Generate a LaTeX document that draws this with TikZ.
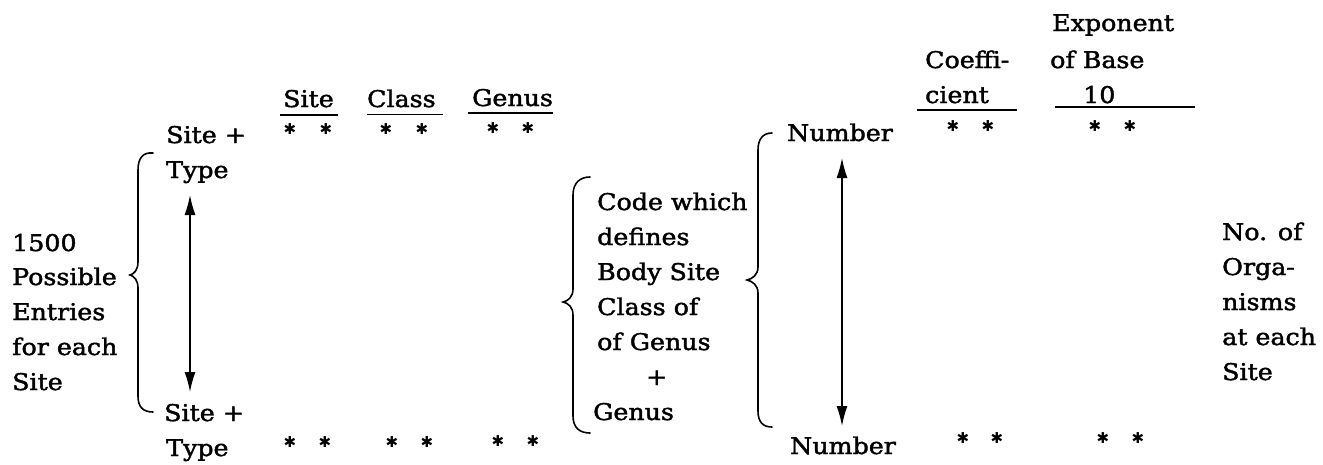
\documentclass[tikz,border=0pt]{standalone}
\usepackage{fontspec}
\usetikzlibrary{arrows.meta}
\setmainfont{DejaVu Serif}[FakeStretch=1.1,FakeBold=1.8]
\newfontfamily\starfont{DejaVu Sans}
\begin{document}
\begin{tikzpicture}[x=1pt,y=-1pt,
  lbl/.style={anchor=base west,inner sep=0pt,font=\fontsize{23}{35}\selectfont},
  stars/.style={anchor=center,inner sep=0pt,font=\starfont\fontsize{15}{20}\selectfont},
  brace/.style={line width=1.6pt,line cap=round},
  uline/.style={line width=1.5pt},
  dblarrow/.style={line width=1.4pt,{Latex[length=20pt,width=11pt]}-{Latex[length=20pt,width=11pt]}}]
\path[use as bounding box] (0,0) rectangle (1323,464);
% left description
\node[lbl] (l1) at (12,251) {1500};
\node[lbl] (l2) at (12,285) {Possible};
\node[lbl] (l3) at (12,320) {Entries};
\node[lbl] (l4) at (12,355) {for each};
\node[lbl] (l5) at (12,390) {Site};
% left brace
\draw[brace] (153,153) .. controls (143,152) and (138,158) .. (138,170) -- (138,262)
  .. controls (138,270) and (134,274) .. (130,275) .. controls (134,276) and (138,280) .. (138,288)
  -- (138,396) .. controls (138,407) and (143,412) .. (153,412);
% Site + Type entries
\node[lbl] (st1) at (166,143) {Site +};
\node[lbl] (ty1) at (166,178) {Type};
\node[lbl] (st2) at (164,421) {Site +};
\node[lbl] (ty2) at (166,456) {Type};
\coordinate (a1t) at (190,195);
\coordinate (a1b) at (190,392);
\draw[dblarrow] (a1t) -- (a1b);
% headers Site Class Genus
\node[lbl] (hsite) at (283,107) {Site};
\node[lbl] (hclass) at (367,107) {Class};
\node[lbl] (hgenus) at (472,106) {Genus};
\draw[uline] (280,115) -- (338,115);
\draw[uline] (367,114.5) -- (443,114.5);
\draw[uline] (468,113) -- (553,113);
% stars top row
\node[stars] (s1) at (290,129) {✱};
\node[stars] (s2) at (326,129) {✱};
\node[stars] (s3) at (386,129) {✱};
\node[stars] (s4) at (422,129) {✱};
\node[stars] (s5) at (493,128) {✱};
\node[stars] (s6) at (528,128) {✱};
% stars bottom row
\node[stars] (b1) at (290,442) {✱};
\node[stars] (b2) at (325,442) {✱};
\node[stars] (b3) at (392,442) {✱};
\node[stars] (b4) at (427,442) {✱};
\node[stars] (b5) at (498,441) {✱};
\node[stars] (b6) at (533,441) {✱};
% code brace
\draw[brace] (590,177) .. controls (580,177) and (573,183) .. (573,195) -- (573,289)
  .. controls (573,297) and (568,301) .. (563,302) .. controls (568,303) and (573,307) .. (573,315)
  -- (573,416) .. controls (573,428) and (580,433) .. (590,433);
\node[lbl] (c1) at (597,210) {Code which};
\node[lbl] (c2) at (597,245) {defines};
\node[lbl] (c3) at (597,280) {Body Site};
\node[lbl] (c4) at (597,315) {Class of};
\node[lbl] (c5) at (597,350) {of Genus};
\node[lbl] (c6) at (646,385) {+};
\node[lbl] (c7) at (593,420) {Genus};
% number brace
\draw[brace] (772,133) .. controls (763,133) and (758,139) .. (758,150) -- (758,267)
  .. controls (758,275) and (752,279) .. (747,280) .. controls (752,281) and (758,285) .. (758,293)
  -- (758,411) .. controls (758,422) and (763,427) .. (772,427);
\node[lbl] (n1) at (787,141) {Number};
\node[lbl] (n2) at (790,454) {Number};
\coordinate (a2t) at (842,158);
\coordinate (a2b) at (842,426);
\draw[dblarrow] (a2t) -- (a2b);
% coefficient / exponent headers
\node[lbl] (co1) at (925,68) {Coeffi-};
\node[lbl] (co2) at (925,103) {cient};
\node[lbl] (ex1) at (1052,31) {Exponent};
\node[lbl] (ex2) at (1050,68) {of Base};
\node[lbl] (ex3) at (1083,103) {10};
\draw[uline] (917,110) -- (1017,110);
\draw[uline] (1055,107) -- (1195,107);
\node[stars] (cs1) at (953,126) {✱};
\node[stars] (cs2) at (988,126) {✱};
\node[stars] (es1) at (1095,126) {✱};
\node[stars] (es2) at (1130,126) {✱};
\node[stars] (cb1) at (963,438) {✱};
\node[stars] (cb2) at (997,438) {✱};
\node[stars] (eb1) at (1103,438) {✱};
\node[stars] (eb2) at (1138,438) {✱};
% right description
\node[lbl] (r1) at (1222,240) {No. of};
\node[lbl] (r2) at (1222,275) {Orga-};
\node[lbl] (r3) at (1222,310) {nisms};
\node[lbl] (r4) at (1222,345) {at each};
\node[lbl] (r5) at (1222,380) {Site};
\end{tikzpicture}
\end{document}
